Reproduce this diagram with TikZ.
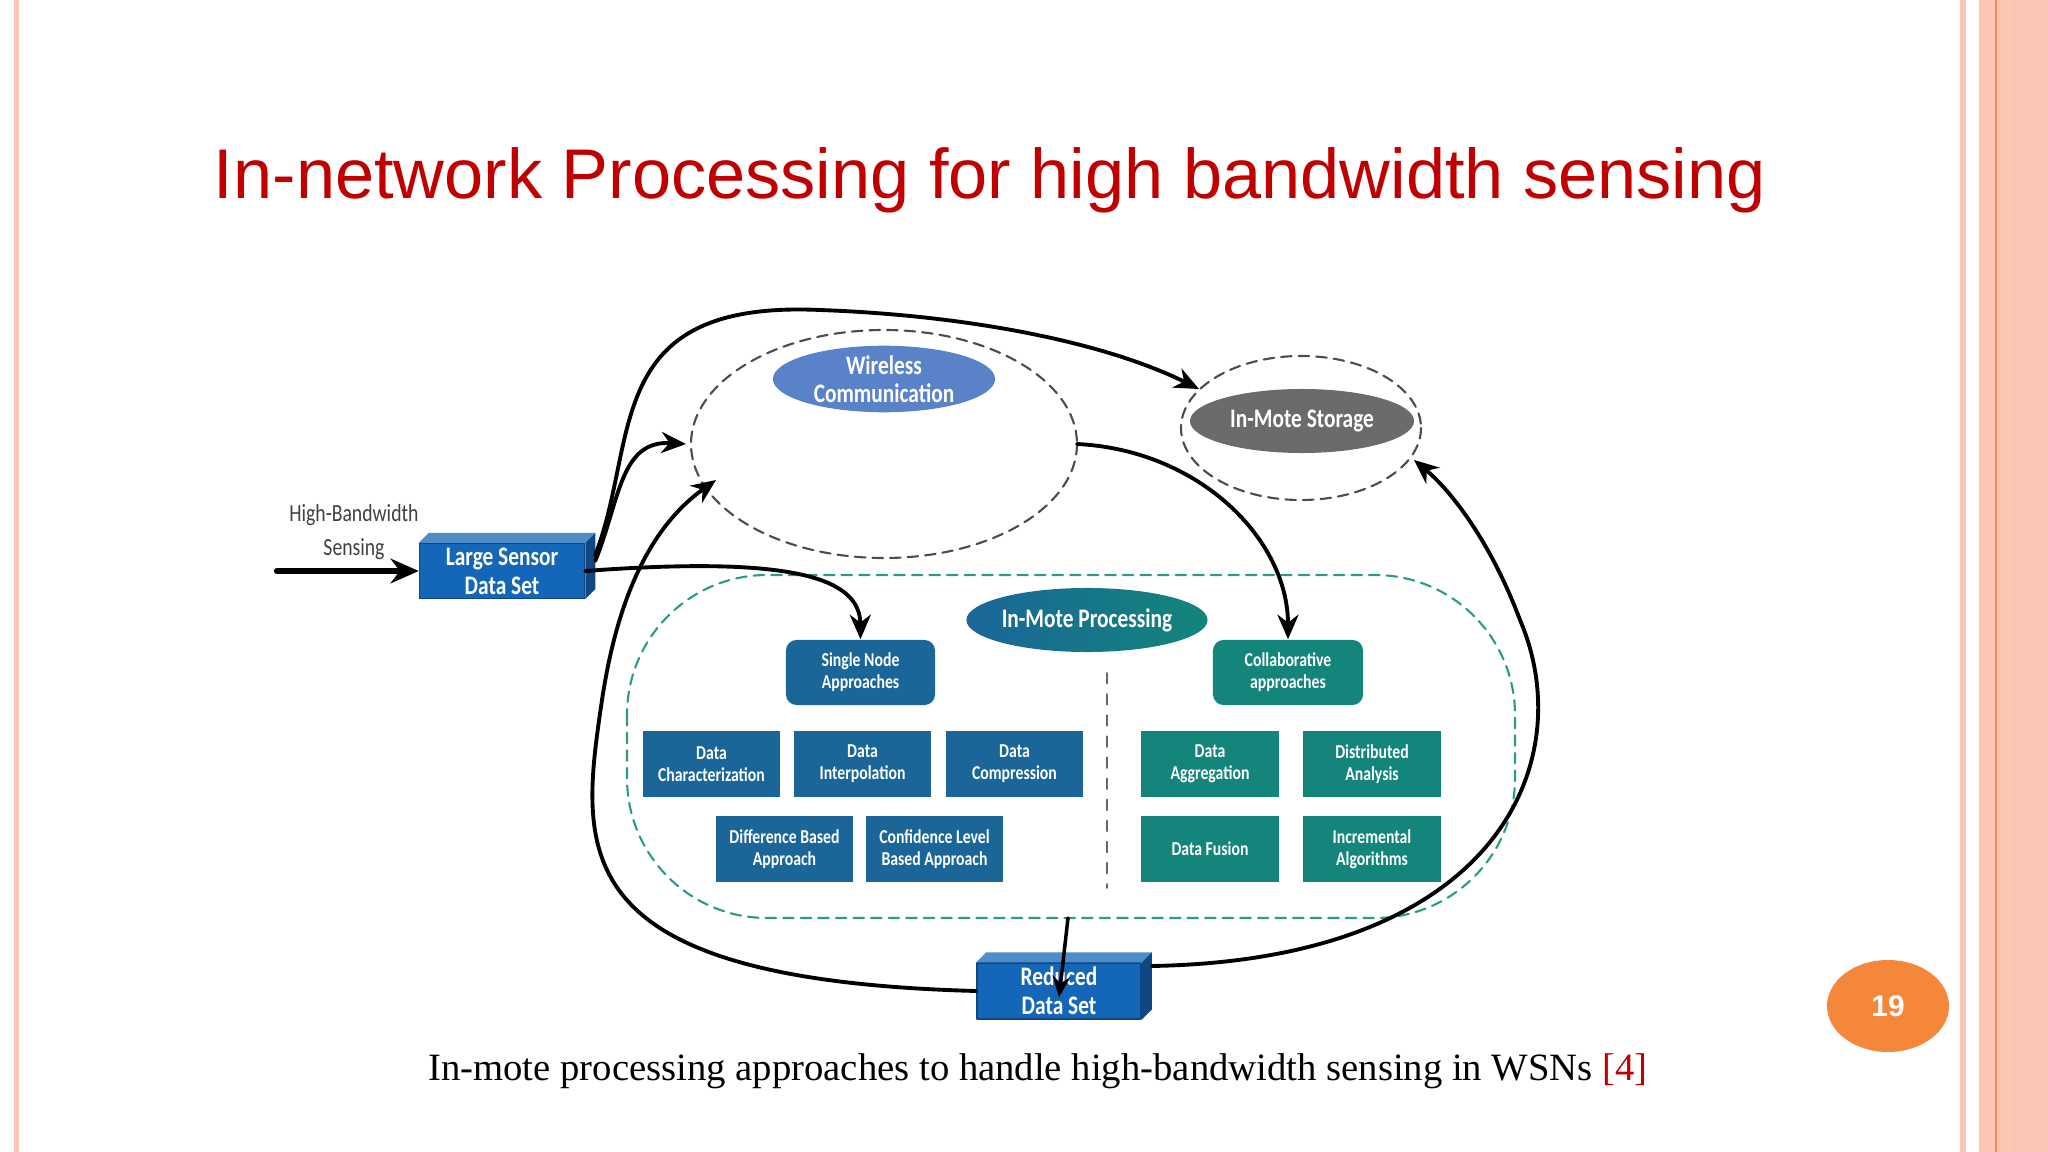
\documentclass[tikz,border=0pt]{standalone}
\usepackage{fontspec}
\setmainfont{Liberation Serif}
\newfontfamily\titlefont{Liberation Sans}
\newfontfamily\cond{Carlito}[FakeStretch=0.8]
\usetikzlibrary{arrows.meta,shapes.geometric}
\definecolor{titlered}{HTML}{C00000}
\definecolor{bluebox}{HTML}{1A6699}
\definecolor{greenbox}{HTML}{13857A}
\definecolor{wirelessblue}{HTML}{5A82C8}
\definecolor{stgrey}{HTML}{6B6B6B}
\definecolor{cubeblue}{HTML}{1466B8}
\definecolor{pinkbar}{HTML}{FBC6B4}
\definecolor{orangeline}{HTML}{F08A50}
\definecolor{pageorange}{HTML}{F5873A}
\definecolor{tealdash}{HTML}{2A9A8A}

\begin{document}
\begin{tikzpicture}[x=0.01cm,y=-0.01cm,line cap=round,line join=round,
  box/.style={draw=none,text=white,font=\cond\bfseries\fontsize{5.6}{6.2}\selectfont,
    align=center,minimum width=1.37cm,minimum height=0.66cm,inner sep=1pt},
  sbox/.style={box,fill=bluebox},
  cbox/.style={box,fill=greenbox},
  oval/.style={ellipse,text=white,font=\cond\bfseries\fontsize{7.6}{8}\selectfont,align=center,inner sep=0pt},
  cube/.style={fill=cubeblue,text=white,font=\cond\bfseries\fontsize{7.6}{8.2}\selectfont,
    align=center,inner sep=1pt,draw=cubeblue!70!black,line width=0.4pt},
  flow/.style={line width=1.1pt,-{Stealth[length=7pt,width=6pt]}},
  ring/.style={densely dashed,line width=0.6pt,draw=black!70}]
  \useasboundingbox (0,0) rectangle (2048,1152);

  % slide frame
  \fill[pinkbar] (14,0) rectangle (19,1152);
  \fill[pinkbar] (1960,0) rectangle (1966,1152);
  \fill[pinkbar] (1979,0) rectangle (2048,1152);
  \draw[orangeline,line width=0.6pt] (1996,0) -- (1996,1152);
  \draw[orangeline!50,line width=0.4pt] (2014,0) -- (2014,1152);

  % title
  \node[font=\titlefont\fontsize{20}{24}\selectfont,text=titlered] (title) at (990,180)
    {In-network Processing for high bandwidth sensing};

  % dashed groups
  \draw[ring] (884,444) ellipse [x radius=193, y radius=114];
  \draw[ring] (1301,428) ellipse [x radius=120, y radius=72];
  \draw[densely dashed,line width=0.6pt,draw=tealdash,rounded corners=1.4cm] (627,575) rectangle (1515,918);
  \draw[dashed,line width=0.5pt,black!60] (1107,673) -- (1107,888);

  % ovals
  \node[oval,fill=wirelessblue,minimum width=2.22cm,minimum height=0.66cm] (wc) at (884,379) {Wireless\\Communication};
  \node[oval,fill=stgrey,minimum width=2.24cm,minimum height=0.64cm] (st) at (1302,421) {In-Mote Storage};
  \node[oval,left color=bluebox,right color=greenbox,minimum width=2.2cm,minimum height=0.64cm] (imp) at (1087,620) {In-Mote Processing};

  % heads of the two branches
  \node[sbox,rounded corners=3pt,minimum width=1.49cm,minimum height=0.65cm] (sn) at (860.5,672.5) {Single Node\\Approaches};
  \node[cbox,rounded corners=3pt,minimum width=1.5cm,minimum height=0.65cm] (co) at (1288,672.5) {Collaborative\\approaches};

  % single node approaches
  \node[sbox] (dch) at (711.5,764) {Data\\Characterization};
  \node[sbox] (dip) at (862.5,764) {Data\\Interpolation};
  \node[sbox] (dco) at (1014.5,764) {Data\\Compression};
  \node[sbox] (dba) at (784.5,849) {Difference Based\\Approach};
  \node[sbox] (clb) at (934.5,849) {Confidence Level\\Based Approach};

  % collaborative approaches
  \node[cbox] (dag) at (1210,764) {Data\\Aggregation};
  \node[cbox] (dan) at (1372,764) {Distributed\\Analysis};
  \node[cbox] (dfu) at (1210,849) {Data Fusion};
  \node[cbox] (inc) at (1372,849) {Incremental\\Algorithms};

  % data set cubes
  \node[cube,minimum width=1.65cm,minimum height=0.55cm] (lsd) at (502,571) {Large Sensor\\Data Set};
  \fill[cubeblue!75!white] (lsd.north west) -- ++(10,-10) -- ([shift={(10,-10)}]lsd.north east) -- (lsd.north east) -- cycle;
  \fill[cubeblue!70!black] (lsd.north east) -- ++(10,-10) -- ([shift={(10,-10)}]lsd.south east) -- (lsd.south east) -- cycle;
  \node[cube,minimum width=1.64cm,minimum height=0.56cm] (rds) at (1059,991) {Reduced\\Data Set};
  \fill[cubeblue!75!white] (rds.north west) -- ++(10,-10) -- ([shift={(10,-10)}]rds.north east) -- (rds.north east) -- cycle;
  \fill[cubeblue!70!black] (rds.north east) -- ++(10,-10) -- ([shift={(10,-10)}]rds.south east) -- (rds.south east) -- cycle;

  % input
  \node[font=\cond\fontsize{7}{9.5}\selectfont,text=black!75,align=center] (hbs) at (354,532) {High-Bandwidth\\Sensing};
  \coordinate (in) at (277,571);
  \draw[line width=1.8pt,-{Stealth[length=8pt,width=7pt]}] (in) -- (lsd.west);

  % connectors
  \coordinate (stin) at (1199,389);
  \coordinate (wcl) at (686,444);
  \coordinate (wcl2) at (716,480);
  \coordinate (wcr) at (1077,444);
  \coordinate (stb) at (1414,460);
  \draw[flow] ([shift={(10,-16)}]lsd.east) .. controls (640,440) and (600,300) .. (820,310)
     .. controls (960,315) and (1100,340) .. (stin);
  \draw[flow] ([shift={(10,-10)}]lsd.east) .. controls (620,500) and (620,440) .. (wcl);
  \draw[flow] (lsd.east) .. controls (800,555) and (860,580) .. (sn.north);
  \draw[flow] (rds.west) .. controls (560,980) and (580,850) .. (602,700)
     .. controls (620,580) and (660,520) .. (wcl2);
  \draw[flow] (wcr) .. controls (1200,450) and (1288,540) .. (co.north);
  \draw[flow] ([shift={(10,-25)}]rds.east) .. controls (1500,960) and (1580,760) .. (1520,620)
     .. controls (1490,540) and (1450,490) .. (stb);
  \coordinate (impb) at (1068,918);
  \draw[line width=1pt,-{Stealth[length=6pt,width=5pt]}] (impb) -- ([yshift=-10]rds.north);

  % caption
  \node[font=\fontsize{11}{13}\selectfont] (cap) at (1038,1071)
    {In-mote processing approaches to handle high-bandwidth sensing in WSNs \textcolor{titlered}{[4]}};

  % page number
  \fill[pageorange] (1888,1006) ellipse [x radius=61, y radius=46];
  \node[text=white,font=\titlefont\bfseries\fontsize{8.5}{10}\selectfont] (pg) at (1888,1006) {19};
\end{tikzpicture}
\end{document}
